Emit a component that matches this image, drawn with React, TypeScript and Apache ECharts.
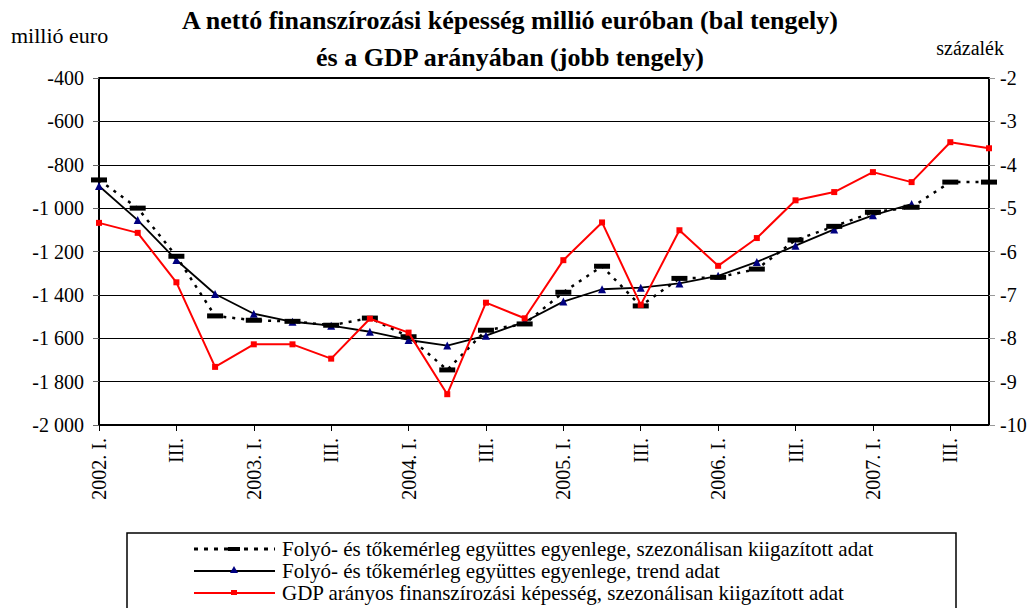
import React, { useEffect, useRef } from "react";
import * as echarts from "echarts";

const categories = [
  "2002. I.", "II.", "III.", "IV.",
  "2003. I.", "II.", "III.", "IV.",
  "2004. I.", "II.", "III.", "IV.",
  "2005. I.", "II.", "III.", "IV.",
  "2006. I.", "II.", "III.", "IV.",
  "2007. I.", "II.", "III.", "IV.",
];

const seasonalAdj = [
  -870, -1000, -1222, -1497, -1517, -1522, -1540, -1507,
  -1593, -1746, -1563, -1534, -1388, -1268, -1451, -1324,
  -1319, -1281, -1147, -1084, -1019, -996, -880, -880,
];

const trend = [
  -898, -1055, -1239, -1396, -1487, -1524, -1542, -1570,
  -1608, -1634, -1588, -1524, -1431, -1374, -1367, -1347,
  -1312, -1248, -1173, -1098, -1033, -981, null, null,
];

const gdpRatio = [
  -5.34, -5.57, -6.71, -8.66, -8.14, -8.14, -8.47, -7.55,
  -7.87, -9.29, -7.18, -7.54, -6.2, -5.33, -7.23, -5.51,
  -6.33, -5.69, -4.82, -4.63, -4.17, -4.4, -3.48, -3.62,
];

const seriesNames = [
  "Folyó- és tőkemérleg együttes egyenlege, szezonálisan kiigazított adat",
  "Folyó- és tőkemérleg együttes egyenlege, trend adat",
  "GDP arányos finanszírozási képesség, szezonálisan kiigazított adat",
];

const titleLines = [
  "A nettó finanszírozási képesség millió euróban (bal tengely)",
  "és a GDP arányában (jobb tengely)",
];

const FONT = "Liberation Serif";

function fmtThousands(v: number): string {
  const s = String(Math.abs(v));
  const t = s.replace(/\B(?=(\d{3})+(?!\d))/g, " ");
  return (v < 0 ? "-" : "") + t;
}

export default function App() {
  const ref = useRef<HTMLDivElement>(null);
  useEffect(() => {
    if (!ref.current) return;
    const chart = echarts.init(ref.current, null, { renderer: "svg" });
    const legendY = [549, 571, 593];
    const lx0 = 194;
    const lx1 = 275;
    const lmx = 234;
    const option: any = {
      animation: false,
      backgroundColor: "#ffffff",
      textStyle: { fontFamily: FONT },
      grid: { left: 99, right: 43, top: 78, bottom: 183, containLabel: false },
      xAxis: {
        type: "category",
        data: categories,
        boundaryGap: false,
        axisLine: { show: true, lineStyle: { color: "#000", width: 2 } },
        axisTick: { show: true, interval: 1, length: 6, lineStyle: { color: "#000", width: 1 } },
        axisLabel: {
          interval: 1,
          rotate: 90,
          margin: 13,
          color: "#000",
          fontFamily: FONT,
          fontSize: 20,
        },
        splitLine: { show: false },
      },
      yAxis: [
        {
          type: "value",
          min: -2000,
          max: -400,
          interval: 200,
          position: "left",
          axisLine: { show: true, lineStyle: { color: "#000", width: 2 } },
          axisTick: { show: true, length: 6, lineStyle: { color: "#666", width: 1 } },
          axisLabel: {
            color: "#000",
            fontFamily: FONT,
            fontSize: 20,
            margin: 15,
            formatter: (v: number) => fmtThousands(v),
          },
          splitLine: { show: true, lineStyle: { color: "#000", width: 1 } },
        },
        {
          type: "value",
          min: -10,
          max: -2,
          interval: 1,
          position: "right",
          axisLine: { show: true, lineStyle: { color: "#000", width: 2 } },
          axisTick: { show: true, length: 6, lineStyle: { color: "#999", width: 1 } },
          axisLabel: {
            color: "#000",
            fontFamily: FONT,
            fontSize: 20,
            margin: 11,
          },
          splitLine: { show: false },
        },
      ],
      series: [
        {
          name: seriesNames[1],
          type: "line",
          yAxisIndex: 0,
          data: trend,
          symbol: "triangle",
          symbolSize: 8,
          itemStyle: { color: "#000080" },
          lineStyle: { color: "#000", width: 1.8 },
          z: 3,
        },
        {
          name: seriesNames[0],
          type: "line",
          yAxisIndex: 0,
          data: seasonalAdj,
          symbol: "rect",
          symbolSize: [16, 5],
          itemStyle: { color: "#000" },
          lineStyle: { color: "#000", width: 2.5, type: [3, 6] },
          z: 4,
        },
        {
          name: seriesNames[2],
          type: "line",
          yAxisIndex: 1,
          data: gdpRatio,
          symbol: "rect",
          symbolSize: 6,
          itemStyle: { color: "#ff0000" },
          lineStyle: { color: "#ff0000", width: 2 },
          z: 5,
        },
      ],
      graphic: [
        {
          type: "line",
          shape: { x1: 99, y1: 78, x2: 989, y2: 78 },
          style: { stroke: "#000", lineWidth: 2 },
          z: 10,
        },
        {
          type: "text",
          x: 510,
          y: 20,
          style: {
            text: titleLines[0],
            font: `bold 26px ${FONT}`,
            fill: "#000",
            textAlign: "center",
            textVerticalAlign: "middle",
          },
        },
        {
          type: "text",
          x: 510,
          y: 57,
          style: {
            text: titleLines[1],
            font: `bold 26px ${FONT}`,
            fill: "#000",
            textAlign: "center",
            textVerticalAlign: "middle",
          },
        },
        {
          type: "text",
          x: 11,
          y: 35,
          style: {
            text: "millió euro",
            font: `22px ${FONT}`,
            fill: "#000",
            textAlign: "left",
            textVerticalAlign: "middle",
          },
        },
        {
          type: "text",
          x: 1004,
          y: 48,
          style: {
            text: "százalék",
            font: `20px ${FONT}`,
            fill: "#000",
            textAlign: "right",
            textVerticalAlign: "middle",
          },
        },
        {
          type: "rect",
          shape: { x: 127, y: 533, width: 829, height: 90 },
          style: { fill: "#fff", stroke: "#000", lineWidth: 1.5 },
          z: 1,
        },
        {
          type: "line",
          shape: { x1: lx0, y1: legendY[0], x2: lx1, y2: legendY[0] },
          style: { stroke: "#000", lineWidth: 3, lineDash: [4, 6] },
          z: 2,
        },
        {
          type: "rect",
          shape: { x: lmx - 6, y: legendY[0] - 2, width: 12, height: 4 },
          style: { fill: "#000" },
          z: 3,
        },
        {
          type: "line",
          shape: { x1: lx0, y1: legendY[1], x2: lx1, y2: legendY[1] },
          style: { stroke: "#000", lineWidth: 2 },
          z: 2,
        },
        {
          type: "polygon",
          shape: { points: [[lmx, legendY[1] - 5], [lmx - 4, legendY[1] + 2], [lmx + 4, legendY[1] + 2]] },
          style: { fill: "#000080" },
          z: 3,
        },
        {
          type: "line",
          shape: { x1: lx0, y1: legendY[2], x2: lx1, y2: legendY[2] },
          style: { stroke: "#ff0000", lineWidth: 2 },
          z: 2,
        },
        {
          type: "rect",
          shape: { x: lmx - 3, y: legendY[2] - 3, width: 6, height: 5 },
          style: { fill: "#ff0000" },
          z: 3,
        },
        ...seriesNames.map((n, i) => ({
          type: "text",
          x: 282,
          y: legendY[i],
          style: {
            text: n,
            font: `21px ${FONT}`,
            fill: "#000",
            textAlign: "left",
            textVerticalAlign: "middle",
          },
          z: 3,
        })),
      ],
    };
    chart.setOption(option);
    return () => chart.dispose();
  }, []);
  return (
    <div
      ref={ref}
      style={{ position: "fixed", left: 0, top: 0, width: 1032, height: 608 }}
    />
  );
}
